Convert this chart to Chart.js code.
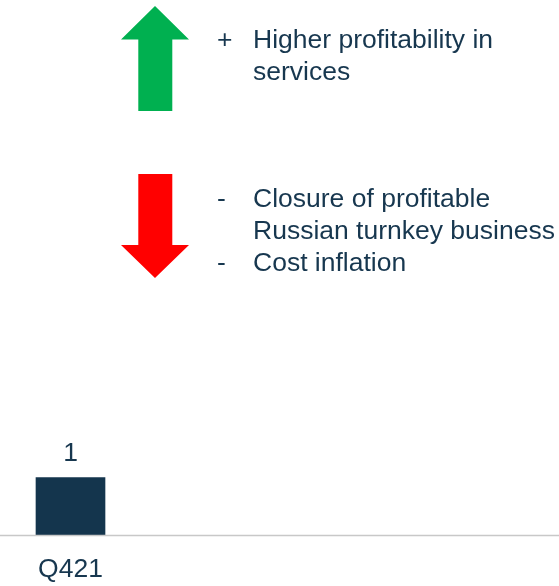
<!DOCTYPE html>
<html>
<head>
<meta charset="utf-8">
<script src="https://cdn.jsdelivr.net/npm/chart.js@4/dist/chart.umd.min.js"></script>
<style>
  html, body { margin: 0; padding: 0; background: #ffffff; }
  #wrap { position: relative; width: 559px; height: 586px; overflow: hidden; }
  #c { position: absolute; left: 0; top: 0; }
  .txt { position: absolute; font-family: "Liberation Sans", Arial, sans-serif; font-size: 26.5px;
         line-height: 32px; color: #17374f; white-space: nowrap; }
  .mark { position: absolute; left: 217px; }
  .body { position: absolute; left: 253px; }
  svg { position: absolute; left: 0; top: 0; }
</style>
</head>
<body>
<div id="wrap">
  <canvas id="c" width="559" height="605"></canvas>
  <svg width="559" height="300">
    <polygon points="155,6 189,39.5 172.3,39.5 172.3,111 138.3,111 138.3,39.5 121,39.5" fill="#00b050"/>
    <polygon points="138.3,174 172.3,174 172.3,245 189,245 155,278 121,245 138.3,245" fill="#ff0000"/>
  </svg>
  <div id="notes"></div>
</div>
<script>
// ---- data ----
const categories = ['Q421'];
const values = [1];
const valueLabels = ['1'];
const positiveDrivers = ['Higher profitability in\nservices'];
const negativeDrivers = ['Closure of profitable\nRussian turnkey business', 'Cost inflation'];

// ---- annotation text (real text) ----
const notes = document.getElementById('notes');
function addNote(sign, text, top) {
  const m = document.createElement('div');
  m.className = 'txt mark'; m.style.top = top + 'px'; m.textContent = sign;
  notes.appendChild(m);
  const lines = text.split('\n');
  lines.forEach((ln, i) => {
    const d = document.createElement('div');
    d.className = 'txt body'; d.style.top = (top + i * 32) + 'px'; d.textContent = ln;
    notes.appendChild(d);
  });
  return top + lines.length * 32;
}
let t = 23;
positiveDrivers.forEach(s => { t = addNote('+', s, t); });
t = 182;
negativeDrivers.forEach(s => { t = addNote('-', s, t); });

// ---- plugins ----
const baseLine = {
  id: 'baseLine',
  afterDatasetsDraw(chart) {
    const y = Math.round(chart.scales.y.getPixelForValue(0)) + 0.5;
    const ctx = chart.ctx;
    ctx.save();
    ctx.strokeStyle = '#c8c8c8';
    ctx.lineWidth = 1.5;
    ctx.beginPath();
    ctx.moveTo(0, y);
    ctx.lineTo(chart.width, y);
    ctx.stroke();
    ctx.restore();
  }
};
const valueLabelPlugin = {
  id: 'valueLabels',
  afterDatasetsDraw(chart) {
    const ctx = chart.ctx;
    const meta = chart.getDatasetMeta(0);
    ctx.save();
    ctx.font = '26.5px "Liberation Sans", Arial, sans-serif';
    ctx.fillStyle = '#17374f';
    ctx.textAlign = 'center';
    ctx.textBaseline = 'alphabetic';
    meta.data.forEach((bar, i) => {
      ctx.fillText(valueLabels[i], bar.x, bar.y - 17);
    });
    ctx.restore();
  }
};

new Chart(document.getElementById('c'), {
  type: 'bar',
  data: {
    labels: categories,
    datasets: [{
      data: values,
      backgroundColor: '#14354d',
      borderWidth: 0,
      barThickness: 69
    }]
  },
  options: {
    responsive: false,
    animation: false,
    events: [],
    layout: { padding: { top: 420, right: 418, bottom: 0, left: 0 } },
    plugins: { legend: { display: false }, tooltip: { enabled: false } },
    scales: {
      x: {
        grid: { display: false, drawTicks: false },
        border: { display: false },
        ticks: {
          padding: 19,
          color: '#17374f',
          font: { family: '"Liberation Sans", Arial, sans-serif', size: 26.5 }
        }
      },
      y: { display: false, min: 0, max: 2 }
    }
  },
  plugins: [baseLine, valueLabelPlugin]
});
</script>
</body>
</html>
